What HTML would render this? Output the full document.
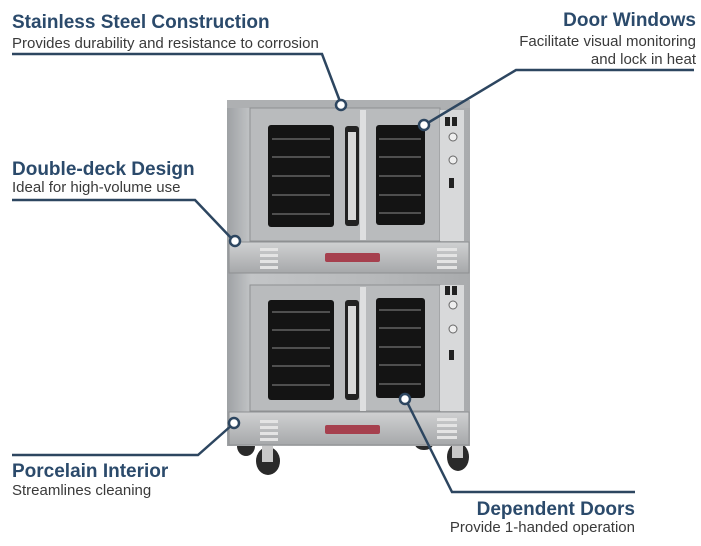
<!DOCTYPE html>
<html><head><meta charset="utf-8"><style>
html,body{margin:0;padding:0;background:#fff;width:701px;height:546px;overflow:hidden}
svg{display:block}
.t{font-family:"Liberation Sans",sans-serif;font-weight:bold;font-size:19px;fill:#2b4a6b}
.s{font-family:"Liberation Sans",sans-serif;font-size:15px;fill:#3a3a3a}
</style></head><body>
<svg width="701" height="546" viewBox="0 0 701 546" xmlns="http://www.w3.org/2000/svg">
<defs>
<linearGradient id="steel" x1="0" x2="1" y1="0" y2="0">
<stop offset="0" stop-color="#9ea1a4"/><stop offset="0.1" stop-color="#c3c5c7"/><stop offset="0.6" stop-color="#b7b9bb"/><stop offset="1" stop-color="#a9abad"/></linearGradient>
<linearGradient id="panel" x1="0" x2="0" y1="0" y2="1">
<stop offset="0" stop-color="#d0d1d2"/><stop offset="1" stop-color="#a6a8aa"/></linearGradient>
</defs>
<g fill="#2a2a2a">
<ellipse cx="246" cy="446" rx="9" ry="10"/><ellipse cx="268" cy="461" rx="12" ry="14"/>
<ellipse cx="424" cy="444" rx="9" ry="6"/><ellipse cx="458" cy="457" rx="11" ry="14"/>
</g>
<g fill="#c8c8c8"><rect x="262" y="446" width="11" height="16"/><rect x="452" y="442" width="11" height="16"/></g>
<rect x="227" y="100" width="243" height="346" fill="url(#steel)"/>
<rect x="227" y="100" width="243" height="8" fill="#aeb0b2"/>
<rect x="250" y="108" width="190" height="133" fill="#b9bbbd" stroke="#8e9092" stroke-width="1"/>
<rect x="268" y="125" width="66" height="102" rx="3" fill="#141414"/>
<rect x="376" y="125" width="49" height="100" rx="3" fill="#141414"/>
<g stroke="#8a8a8a" stroke-width="1">
<line x1="272" y1="139" x2="330" y2="139"/><line x1="272" y1="157" x2="330" y2="157"/><line x1="272" y1="176" x2="330" y2="176"/><line x1="272" y1="195" x2="330" y2="195"/><line x1="272" y1="214" x2="330" y2="214"/>
<line x1="379" y1="139" x2="421" y2="139"/><line x1="379" y1="157" x2="421" y2="157"/><line x1="379" y1="176" x2="421" y2="176"/><line x1="379" y1="195" x2="421" y2="195"/><line x1="379" y1="213" x2="421" y2="213"/>
</g>
<rect x="345" y="126" width="14" height="100" rx="3" fill="#222"/><rect x="348" y="132" width="8" height="88" fill="#d8d8d8"/>
<rect x="360" y="110" width="6" height="130" fill="#dedfe0"/>
<rect x="440" y="110" width="24" height="131" fill="#d8d9da"/>
<rect x="229" y="242" width="240" height="31" fill="url(#panel)" stroke="#8e9092"/>
<rect x="325" y="253" width="55" height="9" rx="2" fill="#a6404e"/>
<rect x="250" y="285" width="190" height="126" fill="#b9bbbd" stroke="#8e9092"/>
<rect x="268" y="300" width="66" height="100" rx="3" fill="#141414"/>
<rect x="376" y="298" width="49" height="100" rx="3" fill="#141414"/>
<g stroke="#8a8a8a" stroke-width="1">
<line x1="272" y1="312" x2="330" y2="312"/><line x1="272" y1="330" x2="330" y2="330"/><line x1="272" y1="348" x2="330" y2="348"/><line x1="272" y1="366" x2="330" y2="366"/><line x1="272" y1="385" x2="330" y2="385"/>
<line x1="379" y1="310" x2="421" y2="310"/><line x1="379" y1="328" x2="421" y2="328"/><line x1="379" y1="347" x2="421" y2="347"/><line x1="379" y1="365" x2="421" y2="365"/><line x1="379" y1="384" x2="421" y2="384"/>
</g>
<rect x="345" y="300" width="14" height="100" rx="3" fill="#222"/><rect x="348" y="306" width="8" height="88" fill="#d8d8d8"/>
<rect x="360" y="287" width="6" height="124" fill="#dedfe0"/>
<rect x="440" y="285" width="24" height="126" fill="#d8d9da"/>
<rect x="229" y="412" width="240" height="33" fill="url(#panel)" stroke="#8e9092"/>
<rect x="325" y="425" width="55" height="9" rx="2" fill="#a6404e"/>
<g fill="#e4e4e4">
<rect x="260" y="248" width="18" height="3"/><rect x="260" y="254" width="18" height="3"/><rect x="260" y="260" width="18" height="3"/><rect x="260" y="266" width="18" height="3"/>
<rect x="437" y="248" width="20" height="3"/><rect x="437" y="254" width="20" height="3"/><rect x="437" y="260" width="20" height="3"/><rect x="437" y="266" width="20" height="3"/>
<rect x="260" y="420" width="18" height="3"/><rect x="260" y="426" width="18" height="3"/><rect x="260" y="432" width="18" height="3"/><rect x="260" y="438" width="18" height="3"/>
<rect x="437" y="418" width="20" height="3"/><rect x="437" y="424" width="20" height="3"/><rect x="437" y="430" width="20" height="3"/><rect x="437" y="436" width="20" height="3"/>
</g>
<g fill="#222"><rect x="445" y="117" width="5" height="9"/><rect x="452" y="117" width="5" height="9"/><rect x="445" y="286" width="5" height="9"/><rect x="452" y="286" width="5" height="9"/>
<rect x="449" y="178" width="5" height="10"/><rect x="449" y="350" width="5" height="10"/></g>
<g fill="#eee" stroke="#666"><circle cx="453" cy="137" r="4"/><circle cx="453" cy="160" r="4"/><circle cx="453" cy="305" r="4"/><circle cx="453" cy="329" r="4"/></g>
<g stroke="#2d4660" stroke-width="2.5" fill="none">
<polyline points="12,54 322,54 341,104"/>
<polyline points="694,70 516,70 426,124"/>
<polyline points="12,200 195,200 233,240"/>
<polyline points="12,455 198,455 232,425"/>
<polyline points="635,492 452,492 406,400"/>
</g>
<g fill="#fff" stroke="#2d4660" stroke-width="2.5">
<circle cx="341" cy="105" r="5"/><circle cx="424" cy="125" r="5"/><circle cx="235" cy="241" r="5"/><circle cx="234" cy="423" r="5"/><circle cx="405" cy="399" r="5"/>
</g>
<text class="t" x="12" y="28">Stainless Steel Construction</text>
<text class="s" x="12" y="48">Provides durability and resistance to corrosion</text>
<text class="t" x="696" y="26" text-anchor="end">Door Windows</text>
<text class="s" x="696" y="46" text-anchor="end">Facilitate visual monitoring</text>
<text class="s" x="696" y="64" text-anchor="end">and lock in heat</text>
<text class="t" x="12" y="175">Double-deck Design</text>
<text class="s" x="12" y="192">Ideal for high-volume use</text>
<text class="t" x="12" y="477">Porcelain Interior</text>
<text class="s" x="12" y="495">Streamlines cleaning</text>
<text class="t" x="635" y="515" text-anchor="end">Dependent Doors</text>
<text class="s" x="635" y="532" text-anchor="end">Provide 1-handed operation</text>
</svg>
</body></html>
